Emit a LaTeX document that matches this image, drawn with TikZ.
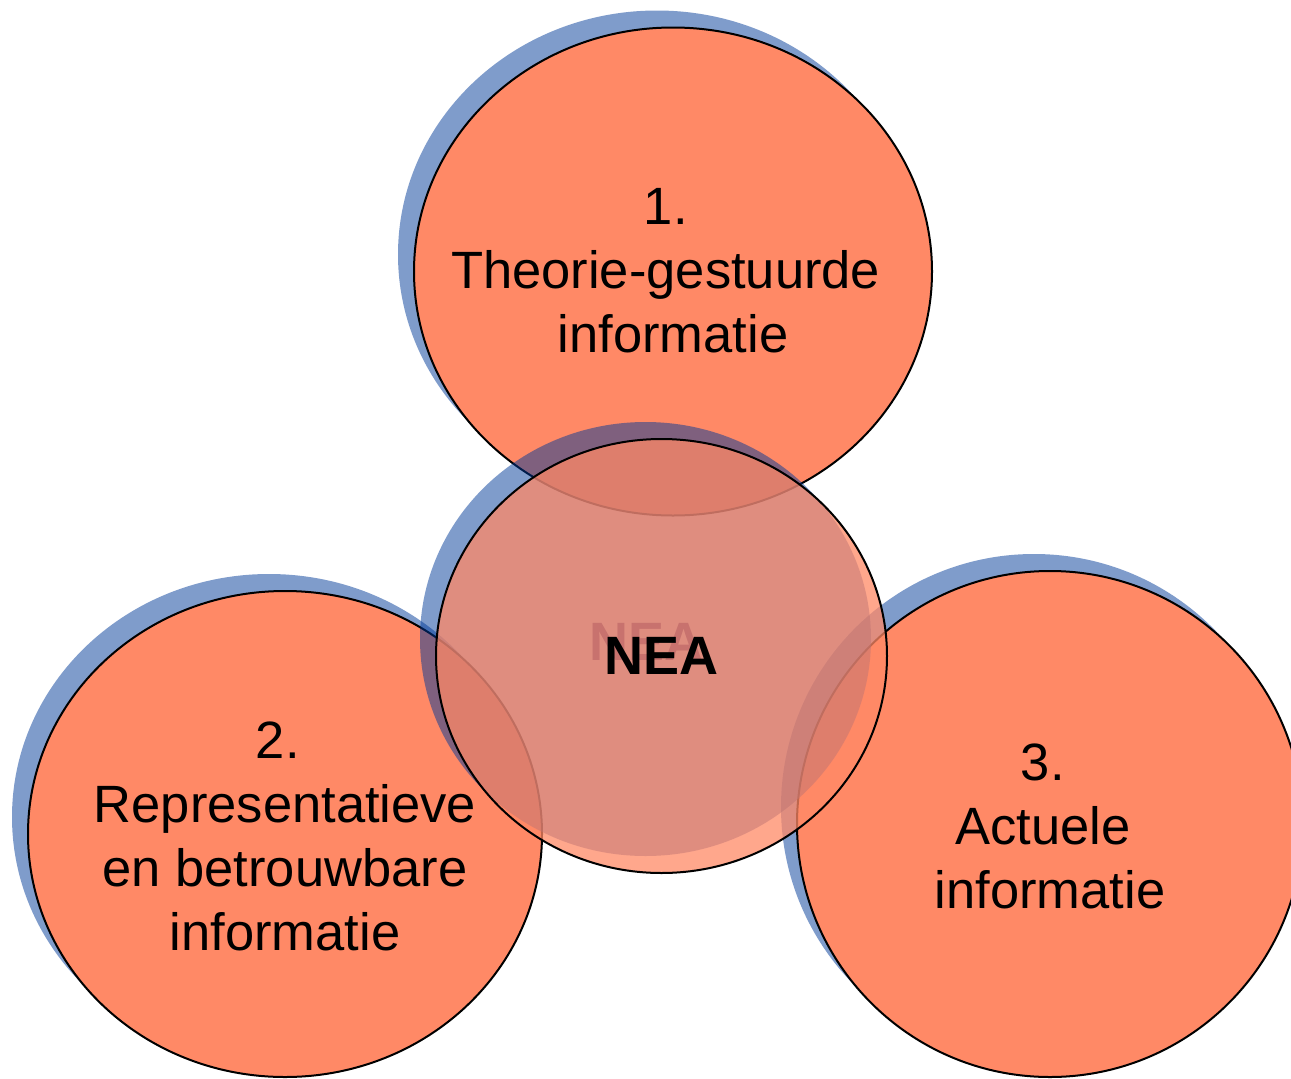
\documentclass[tikz,border=0pt]{standalone}
\usepackage{fontspec}
\setmainfont{Liberation Sans}
\usetikzlibrary{shapes.geometric,shadows}
\definecolor{salmon}{RGB}{255,137,102}
\definecolor{shadowblue}{RGB}{0,57,151}
\definecolor{ghostpink}{RGB}{200,114,110}
\begin{document}
\begin{tikzpicture}[x=1pt,y=-1pt,
  blueshadow/.style={general shadow={shadow xshift=-16pt, shadow yshift=17pt,
      fill=shadowblue, fill opacity=0.5, draw=none}},
  bubble/.style={ellipse, inner sep=0pt, draw=black, line width=2pt,
      fill=salmon, blueshadow},
  label/.style={inner sep=0pt, align=center, text=black,
      font=\fontsize{52.5}{64}\selectfont},
  hub/.style={ellipse, inner sep=0pt, draw=black, line width=2pt,
      fill=salmon, fill opacity=0.75, draw opacity=1, blueshadow},
  hubtext/.style={inner sep=0pt, font=\bfseries\fontsize{54}{64}\selectfont}
]
\useasboundingbox (0,0) rectangle (1291,1079);

% outer circles
\node[bubble, minimum width=518pt, minimum height=488pt] (c1) at (673,271.5) {};
\node[label] (t1) at ([yshift=1pt]c1.center)
  {1.\hbox to .278em{}\\Theorie-gestuurde\hbox to .278em{}\\informatie};
\node[bubble, minimum width=514pt, minimum height=486pt] (c2) at (285,834) {};
\node[label] (t2) at ([yshift=-2pt]c2.center)
  {2.\hbox to .278em{}\\Representatieve\\en betrouwbare\\informatie};
\node[bubble, minimum width=506pt, minimum height=506pt] (c3) at (1050,824) {};
\node[label] (t3) at ([yshift=-2.5pt]c3.center)
  {3.\hbox to .278em{}\\Actuele\hbox to .278em{}\\informatie};

% centre circle
\node[hub, minimum width=451pt, minimum height=434pt] (cen) at (661.5,656) {};
\node[hubtext, text=ghostpink] (ghost) at ([xshift=-15pt,yshift=14pt]cen.center) {NEA};
\node[hubtext, text=black] (nea) at (cen.center) {NEA};
\end{tikzpicture}
\end{document}
